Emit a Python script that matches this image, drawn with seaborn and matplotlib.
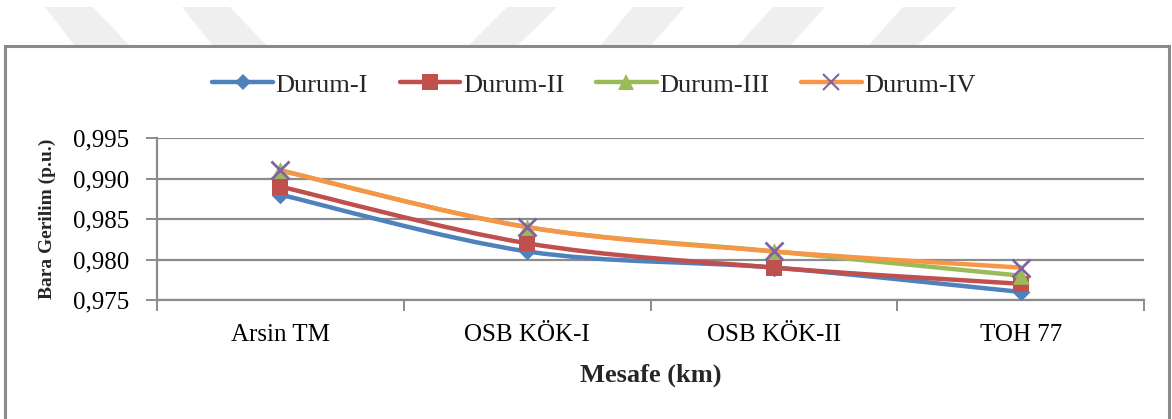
import numpy as np
import pandas as pd
import matplotlib
matplotlib.use("Agg")
import matplotlib.pyplot as plt
import seaborn as sns
from matplotlib.path import Path
from matplotlib.patches import PathPatch, Rectangle, Polygon
from matplotlib.lines import Line2D

# Bus stations along the feeder and the four operating cases
stations = ["Arsin TM", "OSB KÖK-I", "OSB KÖK-II", "TOH 77"]
durum_1 = [0.988, 0.981, 0.979, 0.976]
durum_2 = [0.989, 0.982, 0.979, 0.977]
durum_3 = [0.991, 0.984, 0.981, 0.978]
durum_4 = [0.991, 0.984, 0.981, 0.979]
series_names = ["Durum-I", "Durum-II", "Durum-III", "Durum-IV"]
y_ticks = [0.975, 0.980, 0.985, 0.990, 0.995]

line_colors = ["#4F81BD", "#C0504D", "#9BBB59", "#F79646"]
marker_faces = ["#4F81BD", "#C0504D", "#9BBB59", "#8064A2"]
markers = ["D", "s", "^", "x"]
marker_sizes = [9, 12, 12, 13]

df = pd.DataFrame({
    "station": stations * 4,
    "x": list(range(len(stations))) * 4,
    "value": durum_1 + durum_2 + durum_3 + durum_4,
    "series": [n for n in series_names for _ in stations],
})

sns.set_theme(style="white")
plt.rcParams["font.family"] = ["Liberation Serif", "DejaVu Serif"]

fig = plt.figure(figsize=(11.72, 4.19), dpi=100)
fig.patch.set_facecolor("white")

# faint diagonal bands along the top edge
band_color = "#efefef"
W, H = 1172.0, 419.0
bands = [
    [(45, 7), (93, 7), (130, 46), (75, 46)],
    [(182, 7), (230, 7), (267, 46), (213, 46)],
    [(507, 7), (557, 7), (517, 46), (468, 46)],
    [(633, 7), (685, 7), (650, 46), (600, 46)],
    [(773, 7), (825, 7), (790, 46), (737, 46)],
    [(903, 7), (957, 7), (917, 46), (868, 46)],
]
for pts in bands:
    fig.patches.append(Polygon([(px / W, 1 - py / H) for px, py in pts],
                               closed=True, transform=fig.transFigure,
                               facecolor=band_color, edgecolor="none", zorder=0))

# chart frame
fig.patches.append(Rectangle((5 / W, -0.05), (1169 - 5) / W, 1 - 46 / H + 0.05,
                             transform=fig.transFigure, facecolor="white",
                             edgecolor="#8a8a8a", linewidth=2.2, zorder=1))

ax = fig.add_axes([157 / W, 1 - 300 / H, (1144 - 157) / W, (300 - 138) / H])
ax.set_zorder(2)
ax.patch.set_alpha(0)


def smooth_path(xs, ys):
    """Cubic Bezier path through the points (Catmull-Rom style tangents)."""
    p = np.column_stack([xs, ys]).astype(float)
    n = len(p)
    verts = [p[0]]
    codes = [Path.MOVETO]
    for i in range(n - 1):
        p0 = p[i - 1] if i > 0 else p[i]
        p3 = p[i + 2] if i + 2 < n else p[i + 1]
        c1 = p[i] + (p[i + 1] - p0) / 6.0
        c2 = p[i + 1] - (p3 - p[i]) / 6.0
        verts += [c1, c2, p[i + 1]]
        codes += [Path.CURVE4] * 3
    return Path(verts, codes)


handles = []
for k, name in enumerate(series_names):
    sub = df[df["series"] == name]
    patch = PathPatch(smooth_path(sub["x"], sub["value"]), facecolor="none",
                      edgecolor=line_colors[k], linewidth=3.2,
                      capstyle="round", joinstyle="round", zorder=3 + 2 * k)
    ax.add_patch(patch)
    sns.scatterplot(data=sub, x="x", y="value", ax=ax, marker=markers[k],
                    s=marker_sizes[k] ** 2, color=marker_faces[k],
                    edgecolor=marker_faces[k], linewidth=2.0 if markers[k] == "x" else 0,
                    zorder=4 + 2 * k, legend=False)
    handles.append(Line2D([], [], color=line_colors[k], linewidth=3.2,
                          marker=markers[k], markersize=marker_sizes[k] - 1,
                          markerfacecolor=marker_faces[k],
                          markeredgecolor=marker_faces[k],
                          markeredgewidth=1.5 if markers[k] == "x" else 0,
                          solid_capstyle="round"))

ax.set_xlim(-0.5, len(stations) - 0.5)
ax.set_ylim(y_ticks[0], y_ticks[-1])
ax.set_yticks(y_ticks)
ax.set_yticklabels([f"{v:.3f}".replace(".", ",") for v in y_ticks])
ax.set_xticks(range(len(stations)))
ax.set_xticklabels(stations)
ax.set_xticks(np.arange(-0.5, len(stations), 1.0), minor=True)

grid_color = "#8c8c8c"
ax.yaxis.grid(True, color=grid_color, linewidth=1.6)
ax.xaxis.grid(False)
ax.set_axisbelow(True)
for side in ["top", "right"]:
    ax.spines[side].set_visible(False)
for side in ["left", "bottom"]:
    ax.spines[side].set_color(grid_color)
    ax.spines[side].set_linewidth(1.6)

ax.tick_params(axis="y", which="major", left=True, length=8, width=1.4,
               color=grid_color, pad=12, labelsize=18, labelcolor="black")
ax.tick_params(axis="x", which="major", bottom=False, length=0, pad=17,
               labelsize=18, labelcolor="black")
ax.tick_params(axis="x", which="minor", bottom=True, length=8, width=1.4,
               color=grid_color)

ax.set_xlabel("Mesafe (km)", fontsize=19, fontweight="bold", labelpad=13)
ax.set_ylabel("Bara Gerilim (p.u.)", fontsize=14, fontweight="bold", labelpad=12)

fig.legend(handles=handles, labels=series_names, loc="center",
           bbox_to_anchor=(594 / W, 1 - 85 / H), ncol=4, frameon=False,
           fontsize=19, handlelength=2.3, handletextpad=0.1,
           columnspacing=1.2)

fig.savefig("out.png", dpi=100, facecolor="white")
